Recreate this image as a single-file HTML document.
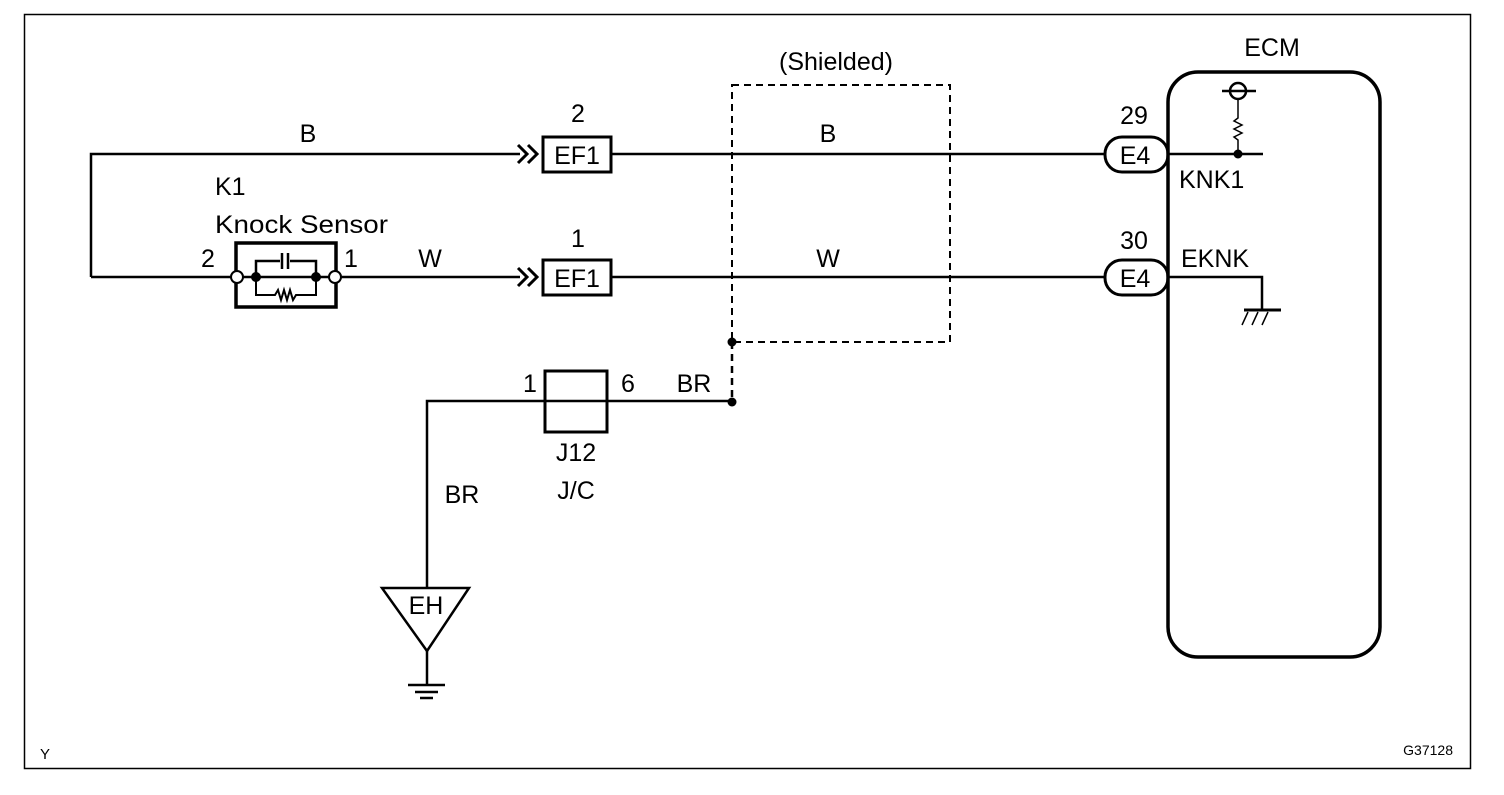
<!DOCTYPE html>
<html><head><meta charset="utf-8"><style>
html,body{margin:0;padding:0;background:#fff;}
svg text{font-family:"Liberation Sans",Arial,sans-serif;fill:#000;}
</style></head><body>
<svg width="1504" height="790" viewBox="0 0 1504 790" xmlns="http://www.w3.org/2000/svg">
<rect x="24.5" y="14.5" width="1446" height="754" fill="none" stroke="#000" stroke-width="1.5"/>
<g stroke="#000" fill="none" stroke-width="2.5">
<polyline points="91,277 91,154 520,154"/>
<line x1="611" y1="154" x2="1105" y2="154"/>
<line x1="91" y1="277" x2="232" y2="277"/>
<line x1="340" y1="277" x2="520" y2="277"/>
<line x1="611" y1="277" x2="1105" y2="277"/>
<polyline points="518,145 527,154 518,163" stroke-width="3"/>
<polyline points="528,145 537,154 528,163" stroke-width="3"/>
<polyline points="518,268 527,277 518,286" stroke-width="3"/>
<polyline points="528,268 537,277 528,286" stroke-width="3"/>
<rect x="543" y="137" width="68" height="35" stroke-width="3"/>
<rect x="543" y="260" width="68" height="35" stroke-width="3"/>
<rect x="236" y="243" width="100" height="64" stroke-width="3.5"/>
<polyline points="256,277 256,261 280,261"/>
<polyline points="290,261 316,261 316,277"/>
<line x1="282" y1="253" x2="282" y2="269"/>
<line x1="288" y1="253" x2="288" y2="269"/>
<polyline points="256,277 256,295 275,295 278,290 281,300 284,290 287,300 290,290 293,300 296,295 316,295 316,277" stroke-width="2"/>
<line x1="240" y1="277" x2="332" y2="277"/>
<rect x="732" y="85" width="218" height="257" stroke-dasharray="7,5" stroke-width="2"/>
<line x1="732" y1="342" x2="732" y2="402" stroke-dasharray="7,5"/>
<rect x="1105" y="137" width="63" height="35" rx="17" stroke-width="3"/>
<rect x="1105" y="260" width="63" height="35" rx="17" stroke-width="3"/>
<rect x="1168" y="72" width="212" height="585" rx="30" stroke-width="3.5"/>
<line x1="1168" y1="154" x2="1263" y2="154"/>
<polyline points="1238,154 1238,140 1234,137 1242,133 1234,129 1242,125 1234,121 1238,118 1238,100" stroke-width="1.5"/>
<circle cx="1238" cy="91" r="8"/>
<line x1="1222" y1="91" x2="1256" y2="91"/>
<polyline points="1168,277 1262,277 1262,310"/>
<line x1="1244" y1="310" x2="1281" y2="310" stroke-width="3"/>
<line x1="1248" y1="312" x2="1242" y2="325" stroke-width="1.5"/>
<line x1="1258" y1="312" x2="1252" y2="325" stroke-width="1.5"/>
<line x1="1268" y1="312" x2="1262" y2="325" stroke-width="1.5"/>
<rect x="545" y="371" width="62" height="61" stroke-width="3"/>
<polyline points="732,401 427,401 427,588"/>
<polygon points="382,588 469,588 427,651" stroke-width="2.5"/>
<line x1="427" y1="651" x2="427" y2="685"/>
<line x1="408" y1="685" x2="445" y2="685" stroke-width="2.5"/>
<line x1="415" y1="692" x2="438" y2="692" stroke-width="2.5"/>
<line x1="420" y1="698" x2="433" y2="698" stroke-width="2.5"/>
</g>
<g fill="#000">
<circle cx="256" cy="277" r="5"/><circle cx="316" cy="277" r="5"/>
<circle cx="732" cy="342" r="4.5"/><circle cx="732" cy="402" r="4.5"/>
<circle cx="1238" cy="154" r="4.5"/>
</g>
<g fill="#fff" stroke="#000" stroke-width="2">
<circle cx="237" cy="277" r="6"/><circle cx="335" cy="277" r="6"/>
</g>
<g font-size="25">
<text x="308" y="142" text-anchor="middle">B</text>
<text x="828" y="142" text-anchor="middle">B</text>
<text x="430" y="267" text-anchor="middle">W</text>
<text x="828" y="267" text-anchor="middle">W</text>
<text x="215" y="195">K1</text>
<text x="215" y="233" textLength="173" lengthAdjust="spacingAndGlyphs">Knock Sensor</text>
<text x="208" y="267" text-anchor="middle">2</text>
<text x="351" y="267" text-anchor="middle">1</text>
<text x="578" y="122" text-anchor="middle">2</text>
<text x="578" y="247" text-anchor="middle">1</text>
<text x="577" y="164" text-anchor="middle">EF1</text>
<text x="577" y="287" text-anchor="middle">EF1</text>
<text x="836" y="70" text-anchor="middle">(Shielded)</text>
<text x="1134" y="124" text-anchor="middle">29</text>
<text x="1134" y="249" text-anchor="middle">30</text>
<text x="1135" y="164" text-anchor="middle">E4</text>
<text x="1135" y="287" text-anchor="middle">E4</text>
<text x="1272" y="56" text-anchor="middle">ECM</text>
<text x="1179" y="188">KNK1</text>
<text x="1181" y="267">EKNK</text>
<text x="530" y="392" text-anchor="middle">1</text>
<text x="628" y="392" text-anchor="middle">6</text>
<text x="694" y="392" text-anchor="middle">BR</text>
<text x="576" y="461" text-anchor="middle">J12</text>
<text x="576" y="499" text-anchor="middle">J/C</text>
<text x="462" y="503" text-anchor="middle">BR</text>
<text x="426" y="614" text-anchor="middle">EH</text>
</g>
<text x="40" y="759" font-size="15">Y</text>
<text x="1453" y="755" font-size="14" text-anchor="end">G37128</text>
</svg>
</body></html>
